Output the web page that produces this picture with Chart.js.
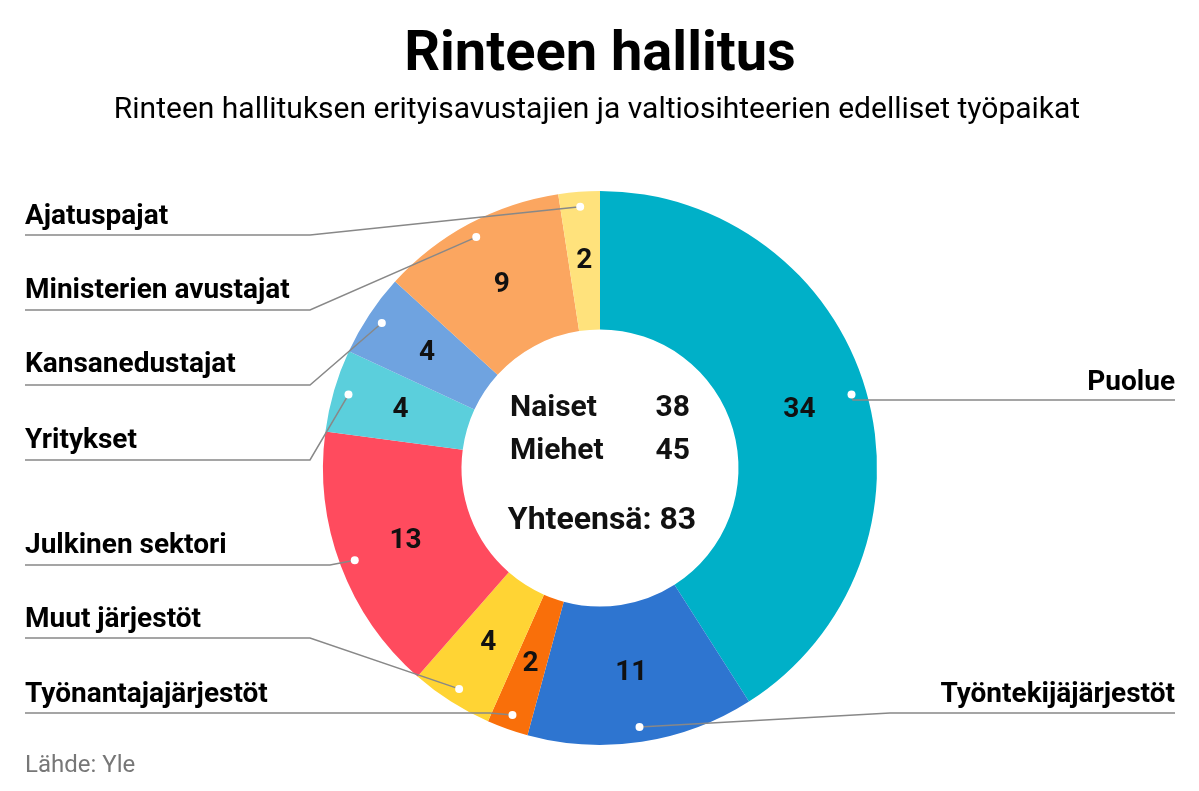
<!DOCTYPE html>
<html>
<head>
<meta charset="utf-8">
<script src="https://cdn.jsdelivr.net/npm/chart.js@4"></script>
<style>
  html, body { margin: 0; padding: 0; background: #fff; }
  #wrap { width: 1199px; height: 791px; position: relative; }
</style>
</head>
<body>
<div id="wrap"><canvas id="chart" width="1199" height="791"></canvas></div>
<script>
const categories = ["Puolue", "Työntekijäjärjestöt", "Työnantajajärjestöt", "Muut järjestöt",
  "Julkinen sektori", "Yritykset", "Kansanedustajat", "Ministerien avustajat", "Ajatuspajat"];
const values = [34, 11, 2, 4, 13, 4, 4, 9, 2];
const colors = ["#00b0c8", "#2e75d0", "#f96f0a", "#ffd434", "#ff4b5e", "#5bcfdc", "#6fa3e0", "#fba660", "#ffe27c"];
const summaryLabels = ["Naiset", "Miehet"];
const summaryValues = [38, 45];
const totalLabel = "Yhteensä: 83";

// label placement: side, text baseline y, underline y, elbow x
const labelPos = [
  { side: "r", y: 380, ly: 400, ex: 853 },
  { side: "r", y: 692, ly: 713, ex: 890 },
  { side: "l", y: 692, ly: 713, ex: 490 },
  { side: "l", y: 617, ly: 638, ex: 310 },
  { side: "l", y: 543, ly: 565, ex: 330 },
  { side: "l", y: 438, ly: 460, ex: 310 },
  { side: "l", y: 362, ly: 385, ex: 310 },
  { side: "l", y: 288, ly: 310, ex: 310 },
  { side: "l", y: 214, ly: 235, ex: 310 }
];

const FONT = "Roboto, 'Liberation Sans', sans-serif";

const overlay = {
  id: "overlay",
  afterDraw(chart) {
    const ctx = chart.ctx;
    const arcs = chart.getDatasetMeta(0).data;
    ctx.save();
    ctx.fillStyle = "#000";
    ctx.textAlign = "center";
    ctx.textBaseline = "alphabetic";
    ctx.font = "bold 56px " + FONT;
    ctx.fillText("Rinteen hallitus", 600, 70);
    ctx.font = "30px " + FONT;
    ctx.fillText("Rinteen hallituksen erityisavustajien ja valtiosihteerien edelliset työpaikat", 597, 118);
    ctx.textAlign = "left";
    ctx.fillStyle = "#777";
    ctx.font = "24px " + FONT;
    ctx.fillText("Lähde: Yle", 25, 772);

    arcs.forEach((a, i) => {
      const p = a.getProps(["x", "y", "startAngle", "endAngle", "innerRadius", "outerRadius"]);
      const mid = (p.startAngle + p.endAngle) / 2;
      const rm = (p.innerRadius + p.outerRadius) / 2;
      ctx.fillStyle = "#111";
      ctx.textAlign = "center";
      ctx.textBaseline = "middle";
      ctx.font = "bold 28px " + FONT;
      ctx.fillText(values[i], p.x + Math.cos(mid) * rm, p.y + Math.sin(mid) * rm);

      const rd = p.outerRadius - 15;
      const dx = p.x + Math.cos(mid) * rd, dy = p.y + Math.sin(mid) * rd;
      const lp = labelPos[i];
      ctx.strokeStyle = "#888";
      ctx.lineWidth = 1.5;
      ctx.beginPath();
      if (lp.side === "l") { ctx.moveTo(25, lp.ly); } else { ctx.moveTo(1175, lp.ly); }
      ctx.lineTo(lp.ex, lp.ly);
      ctx.lineTo(dx, dy);
      ctx.stroke();
      ctx.fillStyle = "#fff";
      ctx.beginPath();
      ctx.arc(dx, dy, 4, 0, Math.PI * 2);
      ctx.fill();

      ctx.fillStyle = "#000";
      ctx.textBaseline = "alphabetic";
      ctx.font = "bold 28px " + FONT;
      ctx.textAlign = lp.side === "l" ? "left" : "right";
      ctx.fillText(categories[i], lp.side === "l" ? 25 : 1175, lp.y + 10);
    });

    ctx.fillStyle = "#111";
    ctx.font = "bold 30px " + FONT;
    ctx.textBaseline = "middle";
    summaryLabels.forEach((l, i) => {
      ctx.textAlign = "left";
      ctx.fillText(l, 510, 408 + i * 43);
      ctx.textAlign = "right";
      ctx.fillText(summaryValues[i], 690, 408 + i * 43);
    });
    ctx.textAlign = "center";
    ctx.font = "bold 32px " + FONT;
    ctx.fillText(totalLabel, 602, 521);
    ctx.restore();
  }
};

new Chart(document.getElementById("chart").getContext("2d"), {
  type: "doughnut",
  data: {
    labels: categories,
    datasets: [{ data: values, backgroundColor: colors, borderWidth: 0 }]
  },
  options: {
    responsive: false,
    animation: false,
    cutout: "50%",
    layout: { padding: { top: 191, bottom: 46, left: 323, right: 322 } },
    plugins: { legend: { display: false }, tooltip: { enabled: false } }
  },
  plugins: [overlay]
});
</script>
</body>
</html>
